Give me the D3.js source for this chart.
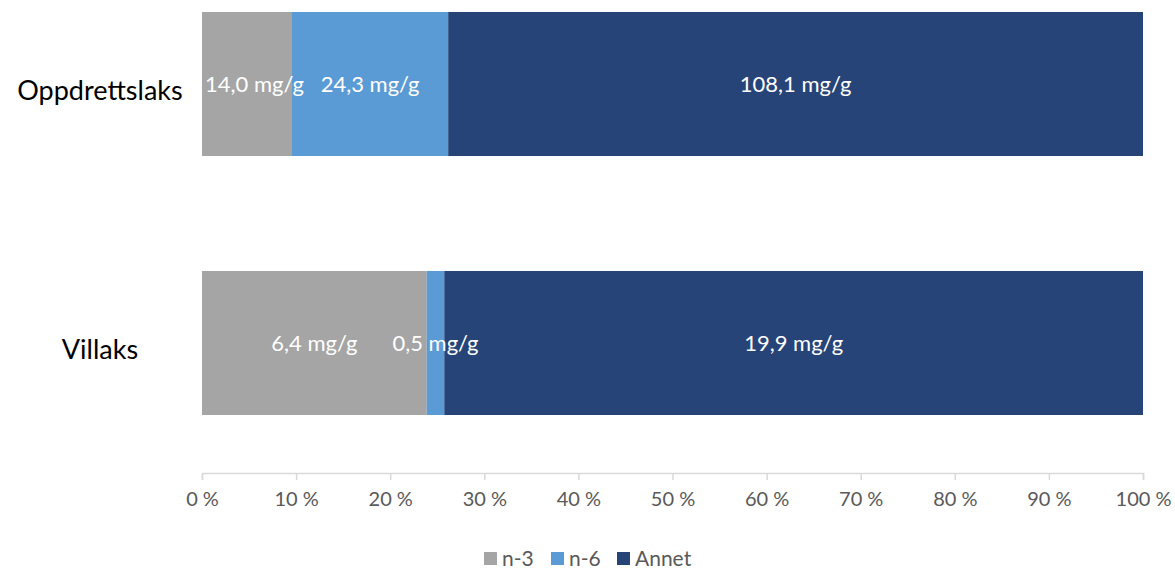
<!DOCTYPE html>
<html>
<head>
<meta charset="utf-8">
<script src="https://cdn.jsdelivr.net/npm/d3@7"></script>
<style>
  html, body { margin: 0; padding: 0; background: #fff; }
  svg { display: block; font-family: Lato, "Open Sans", sans-serif; }
</style>
</head>
<body>
<svg id="chart" width="1175" height="569"></svg>
<script>
// Fatty acid content (mg/g) per salmon type
const categories = ["Oppdrettslaks", "Villaks"];
const seriesNames = ["n-3", "n-6", "Annet"];
const n3 = [14.0, 6.4];
const n6 = [24.3, 0.5];
const annet = [108.1, 19.9];
const tickValues = [0, 0.1, 0.2, 0.3, 0.4, 0.5, 0.6, 0.7, 0.8, 0.9, 1.0];
const colors = ["#A5A5A5", "#5B9BD5", "#264478"];

const svg = d3.select("#chart");

const rows = categories.map((c, i) => ({ category: c, "n-3": n3[i], "n-6": n6[i], "Annet": annet[i] }));
const stacked = d3.stack().keys(seriesNames).offset(d3.stackOffsetExpand)(rows);

const x = d3.scaleLinear().domain([0, 1]).range([202, 1143]);
const y = d3.scaleBand().domain(categories).range([12, 415]).paddingInner(0.444).paddingOuter(0);
const color = d3.scaleOrdinal().domain(seriesNames).range(colors);

const segments = stacked.flatMap(layer => layer.map(v => ({ key: layer.key, v })));

// Stacked segments
svg.append("g").selectAll("rect")
  .data(segments).join("rect")
  .attr("fill", d => color(d.key))
  .attr("x", d => x(d.v[0]))
  .attr("y", d => y(d.v.data.category))
  .attr("width", d => x(d.v[1]) - x(d.v[0]))
  .attr("height", y.bandwidth());

// Value labels, centred in each segment but kept inside the plot's left edge
const fmt = v => v.toFixed(1).replace(".", ",") + " mg/g";
const labels = svg.append("g").selectAll("text")
  .data(segments).join("text")
  .attr("y", d => y(d.v.data.category) + y.bandwidth() / 2)
  .attr("dy", "0.35em")
  .attr("text-anchor", "middle")
  .attr("fill", "#ffffff")
  .attr("font-size", 22)
  .text(d => fmt(d.v.data[d.key]));
labels.attr("x", function (d) {
  const w = this.getComputedTextLength();
  const c = (x(d.v[0]) + x(d.v[1])) / 2;
  return Math.max(c, x(0) + 3 + w / 2);
});

// Category labels
svg.append("g").selectAll("text")
  .data(categories).join("text")
  .attr("x", 100)
  .attr("y", d => y(d) + y.bandwidth() / 2 + 7)
  .attr("dy", "0.35em")
  .attr("text-anchor", "middle")
  .attr("fill", "#000")
  .attr("font-size", 27)
  .text(d => d);

// Percentage axis
const axis = svg.append("g")
  .attr("transform", "translate(0,473)")
  .call(d3.axisBottom(x).tickValues(tickValues).tickSize(7).tickPadding(12)
    .tickFormat(d => Math.round(d * 100) + " %"));
axis.select(".domain").attr("stroke", "#D9D9D9").attr("stroke-width", 1.5);
axis.selectAll(".tick line").attr("stroke", "#D9D9D9").attr("stroke-width", 1.5);
axis.selectAll(".tick text")
  .attr("fill", "#595959")
  .attr("font-size", 20)
  .attr("font-family", "Lato, sans-serif");

// Legend
const legendX = [484, 551, 617];
const legend = svg.append("g").selectAll("g")
  .data(seriesNames).join("g")
  .attr("transform", (d, i) => `translate(${legendX[i]},552)`);
legend.append("rect")
  .attr("width", 13).attr("height", 13)
  .attr("fill", d => color(d));
legend.append("text")
  .attr("x", 18).attr("y", 6.5).attr("dy", "0.35em")
  .attr("fill", "#595959")
  .attr("font-size", 21)
  .text(d => d);
</script>
</body>
</html>
